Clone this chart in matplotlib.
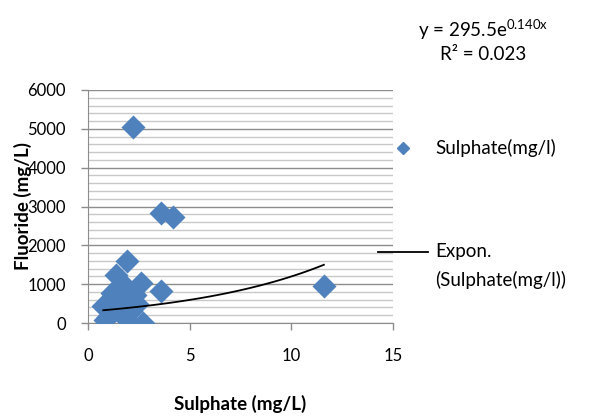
import numpy as np
import matplotlib.pyplot as plt
from matplotlib.lines import Line2D
from matplotlib.ticker import MultipleLocator

plt.rcParams['font.family'] = ['Lato', 'DejaVu Sans']

# Sulphate vs fluoride samples
sulphate = [2.2, 3.6, 4.2, 1.9, 1.4, 2.6, 3.6, 1.8, 1.2, 0.75, 0.85, 2.7,
            1.8, 2.3, 1.5, 2.0, 1.3, 2.1, 1.6, 1.0, 11.6, 2.4, 1.7, 1.1]
fluoride = [5050, 2830, 2730, 1600, 1240, 1030, 830, 850, 760, 430, 80, 0,
            130, 720, 590, 700, 350, 300, 250, 150, 960, 500, 1000, 400]

# exponential trendline coefficients
fit_a, fit_b = 295.5, 0.140
r_squared = 0.023

blue = '#4F81BD'
fs = 13.5

fig = plt.figure(figsize=(5.9, 4.17), dpi=100)
ax = fig.add_axes([88 / 590, 1 - 323 / 417, (393 - 88) / 590, (323 - 90) / 417])

ax.scatter(sulphate, fluoride, marker='D', s=150, color=blue, zorder=3,
           linewidths=0)
xs = np.linspace(min(sulphate), max(sulphate), 100)
ax.plot(xs, fit_a * np.exp(fit_b * xs), color='black', lw=1.3, zorder=4)

ax.set_xlim(0, 15)
ax.set_ylim(0, 6000)
ax.xaxis.set_major_locator(MultipleLocator(5))
ax.yaxis.set_major_locator(MultipleLocator(1000))
ax.yaxis.set_minor_locator(MultipleLocator(200))
ax.grid(which='major', axis='y', color='#8c8c8c', lw=1.0, zorder=0)
ax.grid(which='minor', axis='y', color='#c8c8c8', lw=1.0, zorder=0)
ax.tick_params(which='minor', length=0)
ax.tick_params(which='major', length=5, color='#8c8c8c', labelsize=12,
               width=1)
ax.tick_params(axis='x', pad=13)
ax.tick_params(axis='y', pad=11)
for s in ('top', 'right'):
    ax.spines[s].set_visible(False)
for s in ('left', 'bottom'):
    ax.spines[s].set_color('#8c8c8c')

ax.set_xlabel('Sulphate (mg/L)', fontsize=fs, fontweight='bold', labelpad=22)
ax.set_ylabel('Fluoride (mg/L)', fontsize=fs, fontweight='bold')
ax.yaxis.set_label_coords(-0.185, 0.5)

# legend drawn in figure coordinates
fig.add_artist(Line2D([403 / 590], [1 - 148 / 417], marker='D', ms=6.5,
                      color=blue, lw=0))
fig.text(435 / 590, 1 - 148 / 417, 'Sulphate(mg/l)', fontsize=fs,
         va='center', ha='left')
fig.add_artist(Line2D([378 / 590, 428 / 590], [1 - 252 / 417] * 2,
                      color='black', lw=1.3))
fig.text(435 / 590, 1 - 252 / 417, 'Expon.', fontsize=fs, va='center')
fig.text(435 / 590, 1 - 280 / 417, '(Sulphate(mg/l))', fontsize=fs,
         va='center')

fig.text(483 / 590, 1 - 30 / 417, r'y = 295.5e$^{\mathregular{0.140x}}$',
         fontsize=fs, ha='center', va='center')
fig.text(483 / 590, 1 - 54 / 417, f'R² = {r_squared:.3f}', fontsize=fs,
         ha='center', va='center')

fig.savefig('out.png', dpi=100)
